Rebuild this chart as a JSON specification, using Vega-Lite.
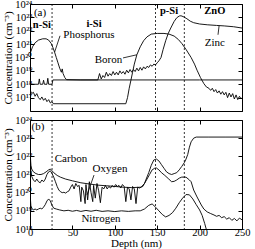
{
"$schema": "https://vega.github.io/schema/vega-lite/v6.json",
"padding": {"left": 1, "top": -2, "right": 2, "bottom": 0},
"spacing": 2,
"config": {"font": "Liberation Serif", "view": {"stroke": "black", "strokeWidth": 1}, "text": {"font": "Liberation Serif"}, "axis": {"grid": false, "domain": false, "tickColor": "black", "labelColor": "black", "titleColor": "black", "labelFont": "Liberation Serif", "titleFont": "Liberation Serif", "labelFontSize": 10.5, "titleFontSize": 11, "titleFontWeight": "normal"}},
"datasets": {
"dash": [{"d": 26}, {"d": 148}, {"d": 182}],
"A": [
{"s":"P","d":0,"c":5e20},{"s":"P","d":1,"c":2.8e20},{"s":"P","d":3,"c":6.3e20},{"s":"P","d":6,"c":1.26e21},{"s":"P","d":10,"c":2e21},{"s":"P","d":15,"c":2.5e21},{"s":"P","d":19,"c":2.5e21},{"s":"P","d":22,"c":2e21},{"s":"P","d":25,"c":1.12e21},{"s":"P","d":27,"c":5.6e20},{"s":"P","d":29,"c":2.5e20},{"s":"P","d":31,"c":1e20},{"s":"P","d":33,"c":4e19},{"s":"P","d":35,"c":1.6e19},{"s":"P","d":37,"c":7.9e18},{"s":"P","d":38,"c":1.4e19},{"s":"P","d":39,"c":6.3e18},{"s":"P","d":41,"c":3.2e18},{"s":"P","d":43,"c":2.2e18},{"s":"P","d":60,"c":2.1e18},{"s":"P","d":100,"c":2.1e18},{"s":"P","d":150,"c":2.1e18},{"s":"P","d":200,"c":2.1e18},{"s":"P","d":250,"c":2.1e18},
{"s":"Zn","d":0,"c":1e18},{"s":"Zn","d":10,"c":1e18},{"s":"Zn","d":11,"c":2.5e18},{"s":"Zn","d":12,"c":1e18},{"s":"Zn","d":15,"c":1e18},{"s":"Zn","d":16,"c":2e18},{"s":"Zn","d":17,"c":1e18},{"s":"Zn","d":20,"c":1e18},{"s":"Zn","d":21,"c":2.8e18},{"s":"Zn","d":22,"c":1e18},{"s":"Zn","d":26,"c":1e18},{"s":"Zn","d":27,"c":2.1e18},{"s":"Zn","d":80,"c":2.1e18},{"s":"Zn","d":82,"c":6.3e18},{"s":"Zn","d":84,"c":2.5e18},{"s":"Zn","d":86,"c":4.5e18},{"s":"Zn","d":88,"c":3.2e18},{"s":"Zn","d":90,"c":7.9e18},{"s":"Zn","d":92,"c":4e18},{"s":"Zn","d":94,"c":6.3e18},{"s":"Zn","d":96,"c":4.5e18},{"s":"Zn","d":98,"c":8.9e18},{"s":"Zn","d":100,"c":5e18},{"s":"Zn","d":102,"c":7.9e18},{"s":"Zn","d":104,"c":5e18},{"s":"Zn","d":106,"c":1e19},{"s":"Zn","d":108,"c":6.3e18},{"s":"Zn","d":110,"c":8.9e18},{"s":"Zn","d":112,"c":5.6e18},{"s":"Zn","d":114,"c":1.12e19},{"s":"Zn","d":116,"c":7.1e18},{"s":"Zn","d":118,"c":1.26e19},{"s":"Zn","d":120,"c":7.9e18},{"s":"Zn","d":122,"c":1.26e19},{"s":"Zn","d":124,"c":8.9e18},{"s":"Zn","d":126,"c":1.6e19},{"s":"Zn","d":128,"c":1e19},{"s":"Zn","d":130,"c":1.8e19},{"s":"Zn","d":132,"c":1.12e19},{"s":"Zn","d":134,"c":2e19},{"s":"Zn","d":136,"c":1.4e19},{"s":"Zn","d":138,"c":2.2e19},{"s":"Zn","d":140,"c":1.8e19},{"s":"Zn","d":142,"c":2.8e19},{"s":"Zn","d":144,"c":2.2e19},{"s":"Zn","d":146,"c":3.2e19},{"s":"Zn","d":148,"c":2.8e19},{"s":"Zn","d":150,"c":4e19},{"s":"Zn","d":152,"c":5.6e19},{"s":"Zn","d":154.5,"c":1e20},{"s":"Zn","d":157,"c":4e20},{"s":"Zn","d":160,"c":1.8e21},{"s":"Zn","d":163,"c":6.3e21},{"s":"Zn","d":166,"c":1.6e22},{"s":"Zn","d":170,"c":5e22},{"s":"Zn","d":173,"c":9.3e22},{"s":"Zn","d":176,"c":1.26e23},{"s":"Zn","d":178,"c":1.32e23},{"s":"Zn","d":181,"c":1.12e23},{"s":"Zn","d":185,"c":7.9e22},{"s":"Zn","d":189,"c":5.2e22},{"s":"Zn","d":193,"c":4e22},{"s":"Zn","d":200,"c":3.2e22},{"s":"Zn","d":209,"c":2.8e22},{"s":"Zn","d":220,"c":2.5e22},{"s":"Zn","d":229,"c":2.3e22},{"s":"Zn","d":240,"c":2e22},{"s":"Zn","d":250,"c":1.6e22},
{"s":"B","d":0,"c":3.2e18},{"s":"B","d":0.5,"c":3.2e17},{"s":"B","d":2,"c":2e17},{"s":"B","d":4,"c":2.5e17},{"s":"B","d":6,"c":1.26e17},{"s":"B","d":8,"c":2e17},{"s":"B","d":10,"c":1e17},{"s":"B","d":12,"c":7.1e16},{"s":"B","d":14,"c":1.12e17},{"s":"B","d":16,"c":6.3e16},{"s":"B","d":18,"c":8.9e16},{"s":"B","d":20,"c":5e16},{"s":"B","d":22,"c":7.1e16},{"s":"B","d":24,"c":4e16},{"s":"B","d":26,"c":5e16},{"s":"B","d":27.5,"c":3.5e16},{"s":"B","d":113,"c":3.5e16},{"s":"B","d":115,"c":1e17},{"s":"B","d":117,"c":5e17},{"s":"B","d":119,"c":2e18},{"s":"B","d":121,"c":7.9e18},{"s":"B","d":123,"c":3.2e19},{"s":"B","d":126,"c":1.6e20},{"s":"B","d":130,"c":6.3e20},{"s":"B","d":134,"c":1.8e21},{"s":"B","d":138,"c":3.5e21},{"s":"B","d":143,"c":5.6e21},{"s":"B","d":150,"c":6.3e21},{"s":"B","d":158,"c":6.3e21},{"s":"B","d":164,"c":5.6e21},{"s":"B","d":170,"c":4e21},{"s":"B","d":175,"c":2.2e21},{"s":"B","d":179,"c":1.12e21},{"s":"B","d":184,"c":4e20},{"s":"B","d":190,"c":1e20},{"s":"B","d":194,"c":3.2e19},{"s":"B","d":197,"c":1.12e19},{"s":"B","d":201,"c":3.2e18},{"s":"B","d":205,"c":1.12e18},{"s":"B","d":208,"c":6.3e17},{"s":"B","d":211,"c":5e17},{"s":"B","d":213,"c":3.5e17},{"s":"B","d":215,"c":5e17},{"s":"B","d":217,"c":2.8e17},{"s":"B","d":219,"c":4e17},{"s":"B","d":221,"c":2.2e17},{"s":"B","d":223,"c":3.2e17},{"s":"B","d":225,"c":1.8e17},{"s":"B","d":227,"c":2.8e17},{"s":"B","d":229,"c":1.6e17},{"s":"B","d":231,"c":2.5e17},{"s":"B","d":233,"c":1e17},{"s":"B","d":235,"c":2.2e17},{"s":"B","d":237,"c":1.12e17},{"s":"B","d":239,"c":2e17},{"s":"B","d":241,"c":7.9e16},{"s":"B","d":243,"c":1.6e17},{"s":"B","d":245,"c":7.1e16},{"s":"B","d":247,"c":1.26e17},{"s":"B","d":249,"c":7.9e16},{"s":"B","d":250,"c":1e17}
],
"B": [
{"s":"C","d":0,"c":2.5e22},{"s":"C","d":0.5,"c":1e22},{"s":"C","d":1,"c":3.2e21},{"s":"C","d":2,"c":2e21},{"s":"C","d":4,"c":1.4e21},{"s":"C","d":7,"c":1.12e21},{"s":"C","d":10,"c":1e21},{"s":"C","d":13,"c":1e21},{"s":"C","d":16,"c":1.12e21},{"s":"C","d":19,"c":1.4e21},{"s":"C","d":22,"c":1.8e21},{"s":"C","d":24,"c":2e21},{"s":"C","d":26,"c":1.6e21},{"s":"C","d":28,"c":1.26e21},{"s":"C","d":32,"c":8.9e20},{"s":"C","d":36,"c":7.1e20},{"s":"C","d":42,"c":5.6e20},{"s":"C","d":50,"c":4.5e20},{"s":"C","d":60,"c":3.5e20},{"s":"C","d":70,"c":3e20},{"s":"C","d":80,"c":2.6e20},{"s":"C","d":90,"c":2.4e20},{"s":"C","d":100,"c":2.2e20},{"s":"C","d":110,"c":2e20},{"s":"C","d":120,"c":1.9e20},{"s":"C","d":131,"c":2e20},{"s":"C","d":135,"c":3.2e20},{"s":"C","d":138,"c":5.6e20},{"s":"C","d":141,"c":1e21},{"s":"C","d":144,"c":1.8e21},{"s":"C","d":147,"c":2.2e21},{"s":"C","d":149,"c":2.3e21},{"s":"C","d":152,"c":1.8e21},{"s":"C","d":155,"c":1.26e21},{"s":"C","d":159,"c":8.9e20},{"s":"C","d":163,"c":6e20},{"s":"C","d":167,"c":4e20},{"s":"C","d":170,"c":4.2e20},{"s":"C","d":173,"c":5e20},{"s":"C","d":176,"c":6.3e20},{"s":"C","d":179,"c":7.2e20},{"s":"C","d":184,"c":7.1e20},{"s":"C","d":188,"c":5e20},{"s":"C","d":190,"c":4e20},{"s":"C","d":193,"c":1.4e20},{"s":"C","d":197,"c":5.8e19},{"s":"C","d":202,"c":2.1e19},{"s":"C","d":205,"c":1.26e19},{"s":"C","d":209,"c":8.7e18},{"s":"C","d":213,"c":7.1e18},{"s":"C","d":217,"c":5.9e18},{"s":"C","d":220,"c":5e18},{"s":"C","d":223,"c":5.6e18},{"s":"C","d":226,"c":4.2e18},{"s":"C","d":229,"c":4.8e18},{"s":"C","d":232,"c":3.5e18},{"s":"C","d":235,"c":4.2e18},{"s":"C","d":238,"c":3e18},{"s":"C","d":241,"c":3.8e18},{"s":"C","d":244,"c":2.8e18},{"s":"C","d":247,"c":4e18},{"s":"C","d":250,"c":3.2e18},
{"s":"O","d":0,"c":2e22},{"s":"O","d":0.5,"c":6.3e21},{"s":"O","d":1,"c":1.6e21},{"s":"O","d":2,"c":7.9e20},{"s":"O","d":4,"c":5e20},{"s":"O","d":6,"c":4e20},{"s":"O","d":8,"c":5.6e20},{"s":"O","d":10,"c":4e20},{"s":"O","d":12,"c":3.5e20},{"s":"O","d":14,"c":5e20},{"s":"O","d":16,"c":4e20},{"s":"O","d":18,"c":5.6e20},{"s":"O","d":20,"c":1e21},{"s":"O","d":22,"c":1.4e21},{"s":"O","d":24,"c":1.6e21},{"s":"O","d":26,"c":1.12e21},{"s":"O","d":28,"c":7.1e20},{"s":"O","d":30,"c":4e20},{"s":"O","d":32,"c":2.2e20},{"s":"O","d":34,"c":1.4e20},{"s":"O","d":36,"c":1.12e20},{"s":"O","d":38,"c":1e20},{"s":"O","d":40,"c":1.05e20},{"s":"O","d":42,"c":9.5e19},{"s":"O","d":44,"c":1.12e20},{"s":"O","d":46,"c":1.26e20},{"s":"O","d":48,"c":2e20},{"s":"O","d":50,"c":2.8e20},{"s":"O","d":52,"c":1.6e20},{"s":"O","d":54,"c":3.2e20},{"s":"O","d":56,"c":2.2e20},{"s":"O","d":58,"c":2.5e20},{"s":"O","d":60,"c":3.2e19},{"s":"O","d":61,"c":2e20},{"s":"O","d":63,"c":1.26e20},{"s":"O","d":65,"c":2.5e19},{"s":"O","d":66,"c":2.8e20},{"s":"O","d":68,"c":4e19},{"s":"O","d":70,"c":4e20},{"s":"O","d":72,"c":1e20},{"s":"O","d":74,"c":3.2e19},{"s":"O","d":75,"c":2.5e20},{"s":"O","d":77,"c":5e19},{"s":"O","d":79,"c":3.2e20},{"s":"O","d":81,"c":1.26e20},{"s":"O","d":83,"c":2.8e19},{"s":"O","d":85,"c":2e20},{"s":"O","d":87,"c":1.6e20},{"s":"O","d":89,"c":2.5e20},{"s":"O","d":91,"c":1.6e20},{"s":"O","d":93,"c":2.2e20},{"s":"O","d":95,"c":1.8e20},{"s":"O","d":97,"c":2.5e20},{"s":"O","d":99,"c":2e20},{"s":"O","d":101,"c":2.8e20},{"s":"O","d":103,"c":2.2e20},{"s":"O","d":105,"c":2.5e20},{"s":"O","d":107,"c":1.8e20},{"s":"O","d":109,"c":2.8e20},{"s":"O","d":111,"c":2.2e20},{"s":"O","d":113,"c":3.2e19},{"s":"O","d":115,"c":2e20},{"s":"O","d":117,"c":1.6e20},{"s":"O","d":119,"c":4e19},{"s":"O","d":121,"c":2.2e20},{"s":"O","d":123,"c":1.6e20},{"s":"O","d":125,"c":2.5e19},{"s":"O","d":127,"c":2e20},{"s":"O","d":129,"c":1.8e20},{"s":"O","d":131,"c":2e20},{"s":"O","d":133,"c":2.2e20},{"s":"O","d":135,"c":3.2e20},{"s":"O","d":137,"c":5.6e20},{"s":"O","d":140,"c":1.26e21},{"s":"O","d":143,"c":3.2e21},{"s":"O","d":146,"c":6.3e21},{"s":"O","d":149,"c":7.1e21},{"s":"O","d":152,"c":5.6e21},{"s":"O","d":155,"c":3.5e21},{"s":"O","d":158,"c":2.2e21},{"s":"O","d":161,"c":1.4e21},{"s":"O","d":164,"c":1.12e21},{"s":"O","d":167,"c":1e21},{"s":"O","d":170,"c":1.12e21},{"s":"O","d":173,"c":1.26e21},{"s":"O","d":176,"c":1.8e21},{"s":"O","d":179,"c":2.8e21},{"s":"O","d":182,"c":4.5e21},{"s":"O","d":184,"c":7.1e21},{"s":"O","d":186,"c":1.26e22},{"s":"O","d":188,"c":3.2e22},{"s":"O","d":190,"c":6.3e22},{"s":"O","d":193,"c":1e23},{"s":"O","d":196,"c":1.15e23},{"s":"O","d":210,"c":1.15e23},{"s":"O","d":230,"c":1.15e23},{"s":"O","d":250,"c":1.15e23},
{"s":"N","d":0,"c":1e20},{"s":"N","d":1,"c":2e19},{"s":"N","d":2,"c":1.4e19},{"s":"N","d":4,"c":1.12e19},{"s":"N","d":6,"c":1.26e19},{"s":"N","d":8,"c":1.12e19},{"s":"N","d":10,"c":1.26e19},{"s":"N","d":12,"c":1.4e19},{"s":"N","d":14,"c":1.26e19},{"s":"N","d":16,"c":1.6e19},{"s":"N","d":18,"c":2.2e19},{"s":"N","d":20,"c":3.5e19},{"s":"N","d":22,"c":4.5e19},{"s":"N","d":24,"c":3.5e19},{"s":"N","d":26,"c":2e19},{"s":"N","d":28,"c":1.4e19},{"s":"N","d":31,"c":1.26e19},{"s":"N","d":35,"c":1.12e19},{"s":"N","d":40,"c":1e19},{"s":"N","d":45,"c":1.07e19},{"s":"N","d":50,"c":9.5e18},{"s":"N","d":55,"c":1.05e19},{"s":"N","d":60,"c":9.3e18},{"s":"N","d":66,"c":1.05e19},{"s":"N","d":72,"c":9.5e18},{"s":"N","d":78,"c":1.07e19},{"s":"N","d":85,"c":9.3e18},{"s":"N","d":92,"c":1e19},{"s":"N","d":100,"c":9.1e18},{"s":"N","d":108,"c":1e19},{"s":"N","d":116,"c":9.3e18},{"s":"N","d":124,"c":1e19},{"s":"N","d":130,"c":1e19},{"s":"N","d":135,"c":1.26e19},{"s":"N","d":140,"c":2e19},{"s":"N","d":144,"c":2.4e19},{"s":"N","d":148,"c":1.6e19},{"s":"N","d":152,"c":1e19},{"s":"N","d":156,"c":6.3e18},{"s":"N","d":160,"c":4.6e18},{"s":"N","d":164,"c":5.6e18},{"s":"N","d":168,"c":7.9e18},{"s":"N","d":172,"c":1.4e19},{"s":"N","d":176,"c":2.8e19},{"s":"N","d":180,"c":5e19},{"s":"N","d":184,"c":7.9e19},{"s":"N","d":188,"c":7.6e19},{"s":"N","d":192,"c":4.5e19},{"s":"N","d":196,"c":2.2e19},{"s":"N","d":200,"c":1.12e19},{"s":"N","d":203,"c":5.6e18},{"s":"N","d":206,"c":2e18},{"s":"N","d":209,"c":6.3e17}
],
"labA": [
{"t":"(a)","k":"panel","d":11.8,"c":2.2e23},
{"t":"n-Si","k":"region","d":14,"c":2.8e22},
{"t":"i-Si","k":"region","d":75.5,"c":3.2e22},
{"t":"p-Si","k":"region","d":164,"c":3.2e23},
{"t":"ZnO","k":"region","d":218,"c":3.2e23},
{"t":"Phosphorus","k":"series","d":69.5,"c":5.2e21},
{"t":"Boron","k":"series","d":92.6,"c":6.8e19},
{"t":"Zinc","k":"series","d":218,"c":1.26e21}
],
"leadA": [
{"id":"P","d":29,"c":2.5e20},{"id":"P","d":35.4,"c":4.2e21},
{"id":"B","d":109.7,"c":9.3e19},{"id":"B","d":126,"c":1.6e20},
{"id":"Z","d":223,"c":2.35e22},{"id":"Z","d":221.7,"c":5e21}
],
"labB": [
{"t":"(b)","k":"panel","d":9.4,"c":4.1e23},
{"t":"Carbon","k":"series","d":48.3,"c":7.1e21},
{"t":"Oxygen","k":"series","d":94.3,"c":2e21},
{"t":"Nitrogen","k":"series","d":83.7,"c":3.5e18}
],
"leadB": [
{"id":"O","d":75.5,"c":9.3e20},{"id":"O","d":67.2,"c":7.4e19}
]
},
"vconcat": [
{
"width": 212, "height": 107,
"layer": [
{"data": {"name": "dash"}, "mark": {"type": "rule", "strokeDash": [2, 2], "strokeWidth": 0.8, "color": "black"},
 "encoding": {"x": {"field": "d", "type": "quantitative", "scale": {"domain": [0, 250], "nice": false}, "axis": {"orient": "top", "labels": false, "title": null, "tickSize": -4, "values": [0, 50, 100, 150, 200, 250]}}}},
{"data": {"name": "A"}, "mark": {"type": "line", "color": "black", "strokeWidth": 0.9, "clip": true},
 "encoding": {"x": {"field": "d", "type": "quantitative", "scale": {"domain": [0, 250], "nice": false}, "axis": {"orient": "bottom", "labels": false, "title": null, "tickSize": -4, "values": [0, 50, 100, 150, 200, 250]}},
  "y": {"field": "c", "type": "quantitative", "scale": {"type": "log", "domain": [1e16, 1e24], "nice": false}, "axis": {"orient": "left", "title": "Concentration (cm⁻³)", "titlePadding": 1, "tickSize": -4, "labelPadding": 2, "values": [1e17, 1e18, 1e19, 1e20, 1e21, 1e22, 1e23, 1e24], "labelExpr": "['10¹⁶','10¹⁷','10¹⁸','10¹⁹','10²⁰','10²¹','10²²','10²³','10²⁴'][round(log(datum.value)/LN10)-16]"}},
  "detail": {"field": "s"}}},
{"data": {"name": "leadA"}, "mark": {"type": "line", "color": "black", "strokeWidth": 0.8},
 "encoding": {"x": {"field": "d", "type": "quantitative", "axis": null}, "y": {"field": "c", "type": "quantitative", "axis": null}, "detail": {"field": "id"}}},
{"data": {"name": "labA"}, "transform": [{"filter": "datum.k == 'region'"}], "mark": {"type": "text", "font": "Liberation Serif", "fontWeight": "bold", "fontSize": 10.5, "color": "black"},
 "encoding": {"x": {"field": "d", "type": "quantitative", "axis": null}, "y": {"field": "c", "type": "quantitative", "axis": {"orient": "right", "labels": false, "title": null, "tickSize": -4, "values": [1e16, 1e17, 1e18, 1e19, 1e20, 1e21, 1e22, 1e23, 1e24]}}, "text": {"field": "t"}}},
{"data": {"name": "labA"}, "transform": [{"filter": "datum.k != 'region'"}], "mark": {"type": "text", "font": "Liberation Serif", "fontSize": 11, "color": "black"},
 "encoding": {"x": {"field": "d", "type": "quantitative", "axis": null}, "y": {"field": "c", "type": "quantitative", "axis": null}, "text": {"field": "t"}}}
],
"resolve": {"axis": {"x": "independent", "y": "independent"}}
},
{
"width": 212, "height": 109,
"layer": [
{"data": {"name": "dash"}, "mark": {"type": "rule", "strokeDash": [2, 2], "strokeWidth": 0.8, "color": "black"},
 "encoding": {"x": {"field": "d", "type": "quantitative", "scale": {"domain": [0, 250], "nice": false}, "axis": {"orient": "top", "labels": false, "title": null, "tickSize": -4, "values": [0, 50, 100, 150, 200, 250]}}}},
{"data": {"name": "B"}, "mark": {"type": "line", "color": "black", "strokeWidth": 0.9, "clip": true},
 "encoding": {"x": {"field": "d", "type": "quantitative", "scale": {"domain": [0, 250], "nice": false}, "axis": {"orient": "bottom", "title": "Depth (nm)", "titlePadding": 0, "tickSize": -4, "labelPadding": 2, "labelFlush": false, "values": [0, 50, 100, 150, 200, 250]}},
  "y": {"field": "c", "type": "quantitative", "scale": {"type": "log", "domain": [1e18, 1e24], "nice": false}, "axis": {"orient": "left", "title": "Concentration (cm⁻³)", "titlePadding": 1, "tickSize": -4, "labelPadding": 2, "values": [1e18, 1e19, 1e20, 1e21, 1e22, 1e23, 1e24], "labelExpr": "['10¹⁶','10¹⁷','10¹⁸','10¹⁹','10²⁰','10²¹','10²²','10²³','10²⁴'][round(log(datum.value)/LN10)-16]"}},
  "detail": {"field": "s"}}},
{"data": {"name": "leadB"}, "mark": {"type": "line", "color": "black", "strokeWidth": 0.8},
 "encoding": {"x": {"field": "d", "type": "quantitative", "axis": null}, "y": {"field": "c", "type": "quantitative", "axis": null}, "detail": {"field": "id"}}},
{"data": {"name": "labB"}, "mark": {"type": "text", "font": "Liberation Serif", "fontSize": 11, "color": "black"},
 "encoding": {"x": {"field": "d", "type": "quantitative", "axis": null}, "y": {"field": "c", "type": "quantitative", "axis": {"orient": "right", "labels": false, "title": null, "tickSize": -4, "values": [1e18, 1e19, 1e20, 1e21, 1e22, 1e23, 1e24]}}, "text": {"field": "t"}}}
],
"resolve": {"axis": {"x": "independent", "y": "independent"}}
}
]
}
